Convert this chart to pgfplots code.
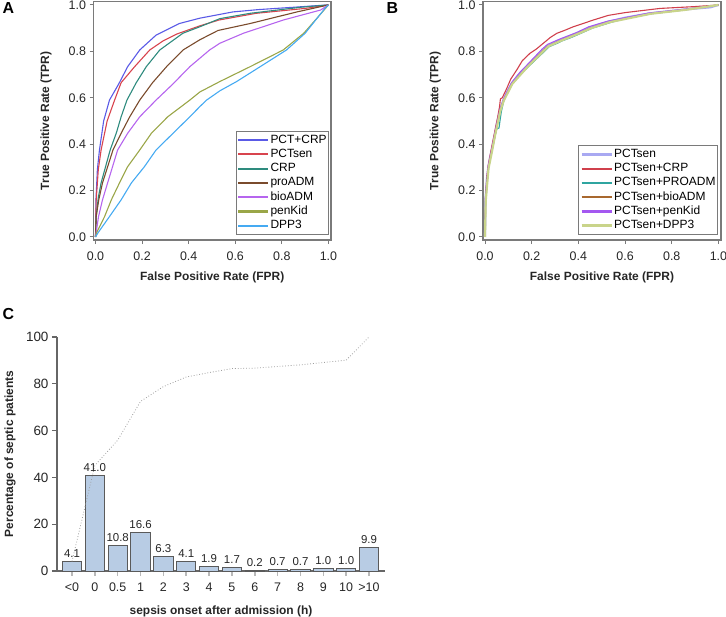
\documentclass[border=0pt]{standalone}
\usepackage{pgfplots}
\pgfplotsset{compat=1.18}
\usepackage{fontspec}
\setmainfont{Liberation Sans}

% colours of panel A
\definecolor{cPCTCRP}{HTML}{5A5AE6}
\definecolor{cPCTsen}{HTML}{D8444E}
\definecolor{cCRP}{HTML}{2E8B7E}
\definecolor{cproADM}{HTML}{7A4B2C}
\definecolor{cbioADM}{HTML}{B665EE}
\definecolor{cpenKid}{HTML}{9AA648}
\definecolor{cDPP3}{HTML}{45AAF2}
% colours of panel B
\definecolor{bPCTsen}{HTML}{A9A9F2}
\definecolor{bCRP}{HTML}{D0404C}
\definecolor{bPRO}{HTML}{2FA5A0}
\definecolor{bBIO}{HTML}{A8682E}
\definecolor{bPEN}{HTML}{A458F0}
\definecolor{bDPP}{HTML}{C9D48A}
% panel C
\definecolor{barfill}{HTML}{B8CCE4}
\definecolor{baredge}{HTML}{5A5A5A}
\definecolor{framegray}{HTML}{7A7A7A}

\pgfplotsset{
  /pgf/number format/assume math mode=true,
  roc/.style={
    scale only axis, width=237.5bp, height=238.3bp,
    xmin=-0.0086, xmax=1.011, ymin=-0.013, ymax=1.014,
    xtick={0,0.2,0.4,0.6,0.8,1}, ytick={0,0.2,0.4,0.6,0.8,1},
    tick pos=left, tick align=outside, major tick length=4bp,
    every tick/.style={framegray, line width=1bp},
    axis line style={framegray, line width=1.2bp},
    ticklabel style={font=\fontsize{12.5}{14}\selectfont, text=black!85,
      /pgf/number format/fixed, /pgf/number format/fixed zerofill,
      /pgf/number format/precision=1},
    xticklabel style={yshift=-4bp},
    xlabel={False Positive Rate (FPR)},
    ylabel={True Positive Rate (TPR)},
    label style={font=\fontsize{12}{14}\selectfont\bfseries, text=black!85},
    xlabel style={at={(axis description cs:0.5,-0.155)}, anchor=center},
    ylabel style={at={(axis description cs:-0.2,0.5)}, anchor=center},
    legend cell align=left,
    legend style={anchor=south east, draw=framegray, line width=0.9bp,
      font=\fontsize{12}{14}\selectfont, inner xsep=1bp, inner ysep=1.5bp,
      row sep=0.3bp, nodes={inner sep=1bp, text height=9bp, text depth=3bp}},
    legend image code/.code={\draw[#1, line width=\pgflinewidth+0.5bp] (0bp,0bp) -- (30bp,0bp);},
  },
  thin roc/.style={line width=1.1bp},
  thick roc/.style={line width=2.2bp},
}

\begin{document}
\begin{tikzpicture}
\path[use as bounding box] (0,0) rectangle (726bp,-617bp);

\node[font=\fontsize{16}{16}\selectfont\bfseries] at (8.3bp,-8.5bp) {A};
\node[font=\fontsize{16}{16}\selectfont\bfseries] at (392.5bp,-8.5bp) {B};
\node[font=\fontsize{16}{16}\selectfont\bfseries] at (8.3bp,-314bp) {C};

% ---------------- A ----------------
\begin{axis}[roc, at={(93.5bp,-240bp)}, anchor=south west,
  legend style={at={(axis description cs:0.992,0.022)}}]
\addplot[draw=cPCTCRP, thin roc] coordinates {(0,0) (0.002,0.16) (0.008,0.29) (0.017,0.375) (0.035,0.50)
  (0.06,0.59) (0.08,0.625) (0.10,0.66) (0.138,0.734) (0.19,0.806) (0.26,0.87)
  (0.30,0.89) (0.36,0.92) (0.448,0.943) (0.59,0.97) (0.70,0.98) (0.85,0.99) (0.95,0.997) (1,1)};
\addlegendentry{PCT+CRP}
\addplot[draw=cPCTsen, thin roc] coordinates {(0,0) (0.003,0.16) (0.012,0.29) (0.024,0.375) (0.05,0.50)
  (0.082,0.59) (0.11,0.665) (0.168,0.734) (0.233,0.806) (0.29,0.845) (0.35,0.875)
  (0.448,0.91) (0.53,0.935) (0.69,0.964) (0.9,0.985) (1,1)};
\addlegendentry{PCTsen}
\addplot[draw=cCRP, thin roc] coordinates {(0,0) (0.003,0.088) (0.012,0.17) (0.024,0.233) (0.063,0.375)
  (0.09,0.45) (0.11,0.518) (0.135,0.59) (0.175,0.665) (0.218,0.734) (0.276,0.806)
  (0.375,0.878) (0.448,0.906) (0.534,0.941) (0.664,0.964) (0.88,0.99) (1,1)};
\addlegendentry{CRP}
\addplot[draw=cproADM, thin roc] coordinates {(0,0) (0.003,0.088) (0.014,0.16) (0.03,0.233) (0.075,0.375)
  (0.11,0.447) (0.147,0.518) (0.19,0.59) (0.245,0.665) (0.305,0.734) (0.376,0.806)
  (0.448,0.85) (0.526,0.89) (0.664,0.92) (0.865,0.97) (1,1)};
\addlegendentry{proADM}
\addplot[draw=cbioADM, thin roc] coordinates {(0,0) (0.013,0.088) (0.03,0.16) (0.052,0.233) (0.095,0.375)
  (0.138,0.447) (0.19,0.518) (0.26,0.59) (0.333,0.66) (0.405,0.734) (0.49,0.806)
  (0.534,0.835) (0.635,0.878) (0.806,0.935) (0.966,0.978) (1,1)};
\addlegendentry{bioADM}
\addplot[draw=cpenKid, thin roc] coordinates {(0,0) (0.004,0.017) (0.039,0.088) (0.068,0.16) (0.103,0.233)
  (0.138,0.303) (0.19,0.375) (0.24,0.447) (0.31,0.518) (0.405,0.59) (0.448,0.625)
  (0.534,0.67) (0.664,0.734) (0.806,0.806) (0.894,0.878) (0.957,0.95) (0.994,0.993) (1,1)};
\addlegendentry{penKid}
\addplot[draw=cDPP3, thin roc] coordinates {(0,0) (0.01,0.017) (0.06,0.088) (0.11,0.16) (0.154,0.233)
  (0.21,0.303) (0.26,0.375) (0.333,0.447) (0.405,0.518) (0.448,0.562) (0.477,0.59)
  (0.534,0.63) (0.606,0.67) (0.707,0.734) (0.82,0.806) (0.9,0.878) (0.957,0.95) (0.985,0.985) (1,1)};
\addlegendentry{DPP3}
\end{axis}

% ---------------- B ----------------
\begin{axis}[roc, at={(483bp,-240bp)}, anchor=south west, width=238bp,
  legend style={at={(axis description cs:0.987,0.022)}}]
\addplot[draw=bPCTsen, thick roc] coordinates {(0,0) (0.002,0.16) (0.008,0.25) (0.014,0.30)
  (0.022,0.345) (0.029,0.375) (0.036,0.41) (0.043,0.447) (0.05,0.485) (0.065,0.55)
  (0.079,0.59) (0.095,0.625) (0.115,0.662) (0.145,0.70) (0.179,0.734) (0.215,0.77)
  (0.25,0.806) (0.27,0.825) (0.3,0.838) (0.322,0.849) (0.36,0.865) (0.393,0.878)
  (0.45,0.903) (0.53,0.928) (0.6,0.945) (0.708,0.964) (0.85,0.98) (0.966,0.99) (1,1)};
\addlegendentry{PCTsen}
\addplot[draw=bCRP, thin roc] coordinates {(0,0) (0.002,0.17) (0.008,0.26) (0.014,0.31) (0.029,0.39)
  (0.043,0.46) (0.055,0.52) (0.062,0.56) (0.066,0.595) (0.074,0.60) (0.093,0.64)
  (0.11,0.68) (0.136,0.72) (0.16,0.76) (0.193,0.792) (0.22,0.81) (0.25,0.835)
  (0.28,0.86) (0.308,0.878) (0.34,0.89) (0.378,0.906) (0.42,0.92) (0.464,0.935)
  (0.528,0.955) (0.6,0.967) (0.75,0.985) (0.9,0.993) (1,1)};
\addlegendentry{PCTsen+CRP}
\addplot[draw=bPRO, thin roc] coordinates {(0,0) (0.002,0.15) (0.009,0.25) (0.015,0.30) (0.03,0.37)
  (0.044,0.44) (0.05,0.465) (0.06,0.47) (0.064,0.5) (0.07,0.54) (0.08,0.585)
  (0.097,0.625) (0.117,0.66) (0.147,0.697) (0.182,0.73) (0.218,0.765) (0.255,0.80)
  (0.275,0.82) (0.31,0.835) (0.33,0.845) (0.37,0.86) (0.40,0.873) (0.46,0.9)
  (0.54,0.925) (0.61,0.943) (0.71,0.962) (0.85,0.978) (1,1)};
\addlegendentry{PCTsen+PROADM}
\addplot[draw=bBIO, thin roc] coordinates {(0,0) (0.003,0.16) (0.015,0.30) (0.03,0.375) (0.045,0.447)
  (0.066,0.55) (0.08,0.59) (0.117,0.662) (0.18,0.732) (0.25,0.805) (0.27,0.823)
  (0.325,0.848) (0.395,0.876) (0.455,0.902) (0.535,0.927) (0.71,0.963) (0.86,0.98) (1,1)};
\addlegendentry{PCTsen+bioADM}
\addplot[draw=bPEN, thin roc] coordinates {(0,0) (0.002,0.17) (0.013,0.30) (0.028,0.375) (0.042,0.447)
  (0.064,0.55) (0.078,0.592) (0.113,0.664) (0.15,0.71) (0.176,0.737) (0.245,0.81)
  (0.268,0.83) (0.318,0.852) (0.39,0.88) (0.445,0.906) (0.525,0.93) (0.7,0.965)
  (0.85,0.981) (1,1)};
\addlegendentry{PCTsen+penKid}
\addplot[draw=bDPP, thick roc] coordinates {(0,0) (0.003,0.155) (0.015,0.295) (0.03,0.37)
  (0.044,0.443) (0.066,0.545) (0.08,0.587) (0.117,0.66) (0.181,0.732) (0.252,0.803)
  (0.272,0.822) (0.326,0.846) (0.397,0.875) (0.455,0.9) (0.535,0.926) (0.71,0.962)
  (0.86,0.979) (1,1)};
\addlegendentry{PCTsen+DPP3}
\end{axis}

% ---------------- C ----------------
\begin{axis}[at={(57bp,-571bp)}, anchor=south west, scale only axis,
  width=328bp, height=234bp,
  xmin=-0.656, xmax=13.70, ymin=0, ymax=100,
  axis lines=left, axis line style={-, black!60, line width=1.4bp},
  xtick={0,...,13},
  xticklabels={<0,0,0.5,1,2,3,4,5,6,7,8,9,10,>10},
  ytick={0,20,40,60,80,100},
  tick align=outside, major tick length=5bp,
  x tick style={gray!55, line width=1.5bp},
  y tick style={black!60, line width=1.2bp},
  ticklabel style={font=\fontsize{12.5}{14}\selectfont, text=black!85},
  xticklabel style={yshift=-3.5bp},
  yticklabel style={font=\fontsize{13.5}{15}\selectfont},
  xlabel={sepsis onset after admission (h)},
  ylabel={Percentage of septic patients},
  label style={font=\fontsize{12}{14}\selectfont\bfseries, text=black!85},
  xlabel style={at={(axis description cs:0.5,-0.171)}, anchor=center},
  ylabel style={at={(axis description cs:-0.143,0.5)}, anchor=center},
  clip=false]
\addplot[ybar, bar shift=0pt, bar width=0.845, fill=barfill, draw=baredge, line width=0.9bp,
  nodes near coords,
  nodes near coords style={font=\fontsize{11.5}{12}\selectfont, text=black!85,
    /pgf/number format/fixed, /pgf/number format/fixed zerofill,
    /pgf/number format/precision=1}]
  coordinates {(0,4.1) (1,41.0) (2,10.8) (3,16.6) (4,6.3) (5,4.1) (6,1.9)
    (7,1.7) (8,0.2) (9,0.7) (10,0.7) (11,1.0) (12,1.0) (13,9.9)};
\addplot[gray!75, dotted, line width=0.8bp] coordinates {(0,4.1) (1,45.1) (2,55.9)
  (3,72.5) (4,78.8) (5,82.9) (6,84.8) (7,86.5) (8,86.7) (9,87.4) (10,88.1)
  (11,89.1) (12,90.1) (13,100)};
\end{axis}
\end{tikzpicture}
\end{document}
